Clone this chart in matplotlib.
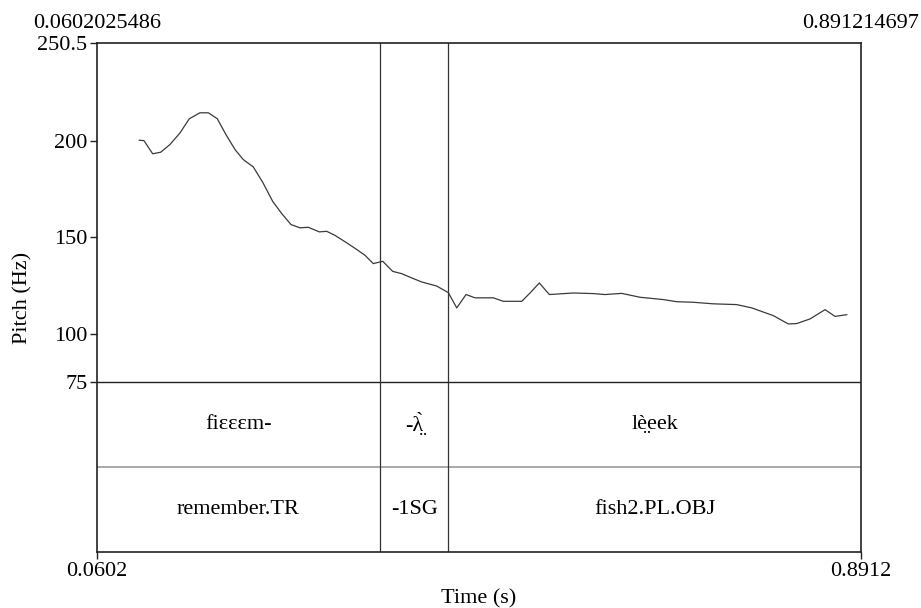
import matplotlib
matplotlib.use("Agg")
import matplotlib.pyplot as plt

plt.rcParams['font.family'] = ['Liberation Serif', 'DejaVu Serif']

# pitch track (time in s, pitch in Hz)
t = [0.1062, 0.1113, 0.1208, 0.1295, 0.1396, 0.1505, 0.1606, 0.1722, 0.1813, 0.1911,
     0.2005, 0.2103, 0.2193, 0.2302, 0.2404, 0.2513, 0.2611, 0.2712, 0.2810, 0.2900,
     0.3020, 0.3100, 0.3191, 0.3310, 0.3427, 0.3517, 0.3607, 0.3710, 0.3818, 0.3916,
     0.4025, 0.4134, 0.4297, 0.4423, 0.4515, 0.4616, 0.4714, 0.4913, 0.5021, 0.5222,
     0.5312, 0.5413, 0.5522, 0.5783, 0.6000, 0.6128, 0.6309, 0.6508, 0.6762, 0.6907,
     0.7088, 0.7306, 0.7560, 0.7723, 0.7958, 0.8121, 0.8213, 0.8358, 0.8521, 0.8629,
     0.8757]
f0 = [200.2, 200.0, 193.2, 194.0, 198.0, 204.0, 211.3, 214.4, 214.4, 211.3,
      203.1, 195.4, 190.2, 186.4, 178.5, 168.6, 162.3, 156.6, 154.9, 155.2,
      152.8, 153.1, 151.0, 147.4, 143.7, 140.7, 136.4, 137.6, 132.4, 131.2,
      129.0, 126.9, 124.8, 121.4, 113.5, 120.4, 118.7, 118.7, 116.9, 116.9,
      121.2, 126.4, 120.4, 121.2, 120.9, 120.4, 121.0, 119.0, 117.8, 116.7,
      116.4, 115.6, 115.2, 113.5, 109.5, 105.2, 105.4, 107.8, 112.6, 109.1,
      110.0]

t_start = 0.0602025486
t_end = 0.891214697
f_min = 75
f_max = 250.5

boundaries = [0.3680, 0.4425]
tier1 = ["fiɛɛɛm-", "-λ̤̀", "lè̤eek"]
tier2 = ["remember.TR", "-1SG", "fish2.PL.OBJ"]

yticks = [75, 100, 150, 200, 250.5]
ytick_labels = ["75", "100", "150", "200", "250.5"]

fs = 16

fig = plt.figure(figsize=(9.21, 6.08), dpi=100)
ax = fig.add_axes([0.1053, 0.0921, 0.8296, 0.8372])

# tiers take the bottom third of the frame, each 1/6
span = f_max - f_min
y_bottom = f_min - span * 0.5
y_sep = f_min - span * 0.25

ax.plot(t, f0, color='#3a3a3a', lw=0.9)

ax.axhline(f_min, color='#222222', lw=1.0)
ax.axhline(y_sep, color='#999999', lw=1.2)
for b in boundaries:
    ax.axvline(b, color='#333333', lw=0.9)

edges = [t_start] + boundaries + [t_end]
for i in range(3):
    mid = (edges[i] + edges[i + 1]) / 2
    ax.text(mid, (f_min + y_sep) / 2, tier1[i], ha='center', va='center', fontsize=fs)
    ax.text(mid, (y_sep + y_bottom) / 2, tier2[i], ha='center', va='center', fontsize=fs)

ax.set_xlim(t_start, t_end)
ax.set_ylim(y_bottom, f_max)
ax.set_yticks(yticks)
ax.set_yticklabels(ytick_labels)
ax.set_xticks([t_start, t_end])
ax.set_xticklabels(["0.0602", "0.8912"])
ax.tick_params(direction='out', length=5, width=1, labelsize=fs, pad=2, color='#222222')
for s in ax.spines.values():
    s.set_linewidth(1.2)
    s.set_color('#222222')

ax.text(0, 1.02, "0.0602025486", transform=ax.transAxes, ha='center', va='bottom', fontsize=fs)
ax.text(1, 1.02, "0.891214697", transform=ax.transAxes, ha='center', va='bottom', fontsize=fs)

ax.set_xlabel("Time (s)", fontsize=fs, labelpad=6)
ax.set_ylabel("Pitch (Hz)", fontsize=fs, labelpad=3)

fig.savefig("out.png", dpi=100)
